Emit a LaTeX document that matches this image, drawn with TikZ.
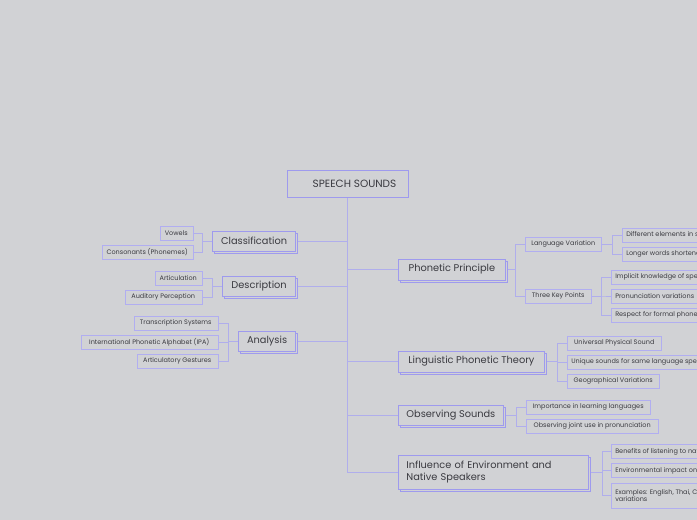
\documentclass[tikz,border=0pt]{standalone}
\usepackage{fontspec}
\setmainfont{Poppins}
\usetikzlibrary{shadows,backgrounds,positioning}
\definecolor{PageGray}{RGB}{209,210,213}
\definecolor{MapLilac}{RGB}{158,154,238}
\definecolor{LinkLilac}{RGB}{176,174,236}
\definecolor{InkGray}{RGB}{58,58,64}

\begin{document}
\begin{tikzpicture}[x=1pt,y=-1pt,
    rootbox/.style={draw=MapLilac,line width=0.8pt,fill=PageGray,minimum width=121pt,minimum height=27pt,
      font=\fontsize{10.5}{12}\selectfont,text=InkGray},
    topic/.style={draw=MapLilac,line width=0.8pt,fill=PageGray,minimum height=20pt,
      font=\fontsize{9.8}{12}\selectfont,text=InkGray,
      copy shadow={shadow xshift=2pt,shadow yshift=-2pt,draw=MapLilac,fill=PageGray}},
    sub/.style={draw=MapLilac!80,line width=0.5pt,fill=PageGray,minimum height=14pt,inner xsep=4pt,
      font=\fontsize{6.5}{7.5}\selectfont,text=InkGray},
    link/.style={draw=LinkLilac,line width=0.8pt}]
  \useasboundingbox (0,0) rectangle (697,520);
  \clip (0,0) rectangle (697,520);

  % central topic
  \node[rootbox] (root) at (347.5,183.5) {\hspace{14pt}SPEECH SOUNDS};

  % left side
  \node[topic,anchor=east,minimum width=83pt] (class) at (296,241) {Classification};
  \node[topic,anchor=east,minimum width=73pt] (desc) at (296,286) {Description};
  \node[topic,anchor=east,minimum width=57pt] (anal) at (296,341) {Analysis};

  \node[sub,anchor=east,minimum width=33pt] (vowel) at (193,233) {Vowels};
  \node[sub,anchor=east,minimum width=91pt] (conso) at (193,252) {Consonants (Phonemes)};
  \node[sub,anchor=east,minimum width=47pt] (artic) at (202,278) {Articulation};
  \node[sub,anchor=east,minimum width=77pt] (audit) at (202,297) {Auditory Perception};
  \node[sub,anchor=east,minimum width=84pt] (trans) at (218,323) {Transcription Systems};
  \node[sub,anchor=east,minimum width=137pt] (ipa) at (218,342) {International Phonetic Alphabet (IPA)};
  \node[sub,anchor=east,minimum width=81pt] (gest) at (218,361) {Articulatory Gestures};

  % right side
  \node[topic,anchor=west,minimum width=107pt,minimum height=21pt] (phon) at (398,269.5) {Phonetic Principle};
  \node[topic,anchor=west,minimum width=146pt,minimum height=21pt] (ling) at (398,361.5) {Linguistic Phonetic Theory};
  \node[topic,anchor=west,minimum width=105pt] (obs) at (398,415) {Observing Sounds};
  \node[topic,anchor=west,text width=174pt,inner xsep=8pt,align=left,minimum height=34pt] (infl) at (398,472)
    {Influence of Environment and\\Native Speakers};

  \node[sub,anchor=west,minimum width=76pt] (lang) at (525,244) {Language Variation};
  \node[sub,anchor=west,minimum width=66pt] (three) at (525,296) {Three Key Points};
  \node[sub,anchor=west] (diff) at (622,235) {Different elements in speech sounds};
  \node[sub,anchor=west] (longw) at (622,254) {Longer words shortened in speech};
  \node[sub,anchor=west] (impl) at (611,277) {Implicit knowledge of speech sounds};
  \node[sub,anchor=west] (pron) at (611,296) {Pronunciation variations};
  \node[sub,anchor=west] (resp) at (611,315) {Respect for formal phonetics};

  \node[sub,anchor=west,minimum width=94pt] (univ) at (567,343) {Universal Physical Sound};
  \node[sub,anchor=west] (uniq) at (567,362) {Unique sounds for same language speakers};
  \node[sub,anchor=west,minimum width=92pt] (geo) at (567,381) {Geographical Variations};

  \node[sub,anchor=west,minimum width=124pt] (learn) at (526,407) {Importance in learning languages};
  \node[sub,anchor=west,minimum width=132pt] (joint) at (526,426) {Observing joint use in pronunciation};

  \node[sub,anchor=west] (benef) at (611,451.5) {Benefits of listening to native speakers};
  \node[sub,anchor=west] (envir) at (611,470.5) {Environmental impact on pronunciation};
  \node[sub,anchor=west,align=left,minimum height=25pt] (examp) at (611,495.5)
    {Examples: English, Thai, Chinese accent\\variations};

  % page and connectors
  \begin{scope}[on background layer]
    \fill[PageGray] (0,0) rectangle (697,520);
    \foreach \t in {class,desc,anal}
      \draw[link] (root.south) |- (\t.east);
    \foreach \t in {phon,ling,obs,infl}
      \draw[link] (root.south) |- (\t.west);

    \foreach \c in {vowel,conso}
      \draw[link] (class.west) -- ++(-10,0) |- (\c.east);
    \foreach \c in {artic,audit}
      \draw[link] (desc.west) -- ++(-10,0) |- (\c.east);
    \foreach \c in {trans,ipa,gest}
      \draw[link] (anal.west) -- ++(-10,0) |- (\c.east);

    \foreach \c in {lang,three}
      \draw[link] (phon.east) -- ++(10,0) |- (\c.west);
    \foreach \c in {diff,longw}
      \draw[link] (lang.east) -- ++(11,0) |- (\c.west);
    \foreach \c in {impl,pron,resp}
      \draw[link] (three.east) -- ++(10,0) |- (\c.west);
    \foreach \c in {univ,uniq,geo}
      \draw[link] (ling.east) -- ++(13,0) |- (\c.west);
    \foreach \c in {learn,joint}
      \draw[link] (obs.east) -- ++(13,0) |- (\c.west);
    \foreach \c in {benef,envir,examp}
      \draw[link] (infl.east) -- ++(14,0) |- (\c.west);
  \end{scope}
\end{tikzpicture}
\end{document}
